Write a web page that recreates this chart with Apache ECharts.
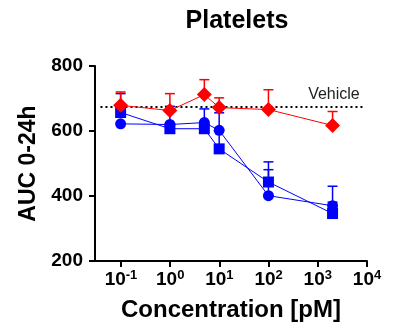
<!DOCTYPE html>
<html>
<head>
    <meta charset="utf-8">
    <title>Platelets</title>
    <script type="text/javascript" src="https://cdn.jsdelivr.net/npm/echarts@6/dist/echarts.min.js"></script>
    <style>
        body { margin: 0; background: #fff; }
    </style>
</head>
<body>
    <div id="root" style="width: 395px; height: 330px;"></div>
<script type="text/javascript">
// concentrations in pM
var conc = [0.1, 1, 5, 10, 100, 2000];
var vehicle = 676;

var redMean = [679, 663, 712, 672, 666, 617];
var redUpper = [720, 715, 758, 702, 727, 660];

var circleMean = [622, 620, 626, 602, 401, 370];
var circleUpper = [null, null, null, null, 481, 381];

var squareMean = [657, 607, 607, 545, 443, 346];
var squareUpper = [715, 676, 668, 656, 505, 430];

var yTicks = [200, 400, 600, 800];

var font = 'Liberation Sans, Arial, sans-serif';

function pairs(xs, ys) {
    return xs.map(function(x, i) { return [x, ys[i]]; });
}
function errData(xs, mean, upper) {
    var out = [];
    xs.forEach(function(x, i) {
        if (upper[i] != null) out.push([x, mean[i], upper[i]]);
    });
    return out;
}
function errSeries(name, data, color) {
    return {
        name: name,
        type: 'custom',
        xAxisIndex: 0,
        yAxisIndex: 0,
        z: 1,
        encode: { x: 0, y: [1, 2] },
        data: data,
        renderItem: function(params, api) {
            var p0 = api.coord([api.value(0), api.value(1)]);
            var p1 = api.coord([api.value(0), api.value(2)]);
            var st = { stroke: color, lineWidth: 1.5 };
            return {
                type: 'group',
                children: [
                    { type: 'line', shape: { x1: p0[0], y1: p0[1], x2: p1[0], y2: p1[1] }, style: st },
                    { type: 'line', shape: { x1: p1[0] - 5, y1: p1[1], x2: p1[0] + 5, y2: p1[1] }, style: st }
                ]
            };
        }
    };
}

var myChart = echarts.init(document.getElementById('root'));
var option = {
    animation: false,
    textStyle: { fontFamily: font },
    title: {
        text: 'Platelets',
        left: 232,
        textAlign: 'center',
        top: 4,
        textStyle: { fontFamily: font, fontSize: 25, fontWeight: 'bold', color: '#000' }
    },
    grid: [
        { left: 95, right: 28, top: 66, bottom: 69 },
        { left: 121, right: 28, top: 66, bottom: 69 }
    ],
    xAxis: [{
        type: 'log',
        gridIndex: 0,
        min: 0.0302,
        max: 10000,
        name: 'Concentration [pM]',
        nameLocation: 'middle',
        nameGap: 37,
        nameTextStyle: { fontFamily: font, fontSize: 24, fontWeight: 'bold', color: '#000' },
        axisLine: { lineStyle: { color: '#000', width: 2 } },
        axisTick: { show: false },
        axisLabel: { show: false },
        splitLine: { show: false }
    }, {
        type: 'log',
        gridIndex: 1,
        min: 0.1,
        max: 10000,
        axisLine: { show: false },
        axisTick: { length: 6, lineStyle: { color: '#000', width: 2 } },
        splitLine: { show: false },
        axisLabel: {
            margin: 8,
            formatter: function(v) {
                var e = Math.round(Math.log10(v));
                return '{b|10}{s|' + e + '}';
            },
            rich: {
                b: { fontFamily: font, fontSize: 19, fontWeight: 'bold', color: '#000', lineHeight: 22 },
                s: { fontFamily: font, fontSize: 13, fontWeight: 'bold', color: '#000', lineHeight: 12, verticalAlign: 'top' }
            }
        }
    }],
    yAxis: [{
        type: 'value',
        gridIndex: 0,
        min: 200,
        max: 800,
        interval: 200,
        name: 'AUC 0-24h',
        nameLocation: 'middle',
        nameGap: 54,
        nameTextStyle: { fontFamily: font, fontSize: 23, fontWeight: 'bold', color: '#000' },
        axisLine: { show: true, lineStyle: { color: '#000', width: 2 } },
        axisTick: { show: true, length: 6, lineStyle: { color: '#000', width: 2 } },
        splitLine: { show: false },
        axisLabel: {
            margin: 12,
            fontFamily: font, fontSize: 19, fontWeight: 'bold', color: '#000',
            formatter: function(v) { return yTicks.indexOf(v) >= 0 ? String(v) : ''; }
        }
    }, {
        type: 'value',
        gridIndex: 1,
        min: 200,
        max: 800,
        show: false
    }],
    series: [
        errSeries('circleErr', errData(conc, circleMean, circleUpper), '#0000ff'),
        errSeries('squareErr', errData(conc, squareMean, squareUpper), '#0000ff'),
        errSeries('redErr', errData(conc, redMean, redUpper), '#ff0000'),
        {
            name: 'circles',
            type: 'line',
            z: 3,
            data: pairs(conc, circleMean),
            symbol: 'circle',
            symbolSize: 11,
            itemStyle: { color: '#0000ff' },
            lineStyle: { color: '#0000ff', width: 1 }
        },
        {
            name: 'squares',
            type: 'line',
            z: 4,
            data: pairs(conc, squareMean),
            symbol: 'rect',
            symbolSize: 11,
            itemStyle: { color: '#0000ff' },
            lineStyle: { color: '#0000ff', width: 1 }
        },
        {
            name: 'red',
            type: 'line',
            z: 5,
            data: pairs(conc, redMean),
            symbol: 'diamond',
            symbolSize: 15,
            itemStyle: { color: '#ff0000' },
            lineStyle: { color: '#ff0000', width: 1 },
            markLine: {
                silent: true,
                symbol: 'none',
                lineStyle: { color: '#000', width: 2, type: [2, 3] },
                label: {
                    show: true,
                    position: 'insideEndTop',
                    formatter: 'Vehicle',
                    distance: 4,
                    fontFamily: font, fontSize: 16, color: '#222'
                },
                data: [[{ coord: [0.039, vehicle] }, { coord: [8600, vehicle] }]]
            }
        }
    ]
};
myChart.setOption(option, true);
</script>
</body>
</html>
